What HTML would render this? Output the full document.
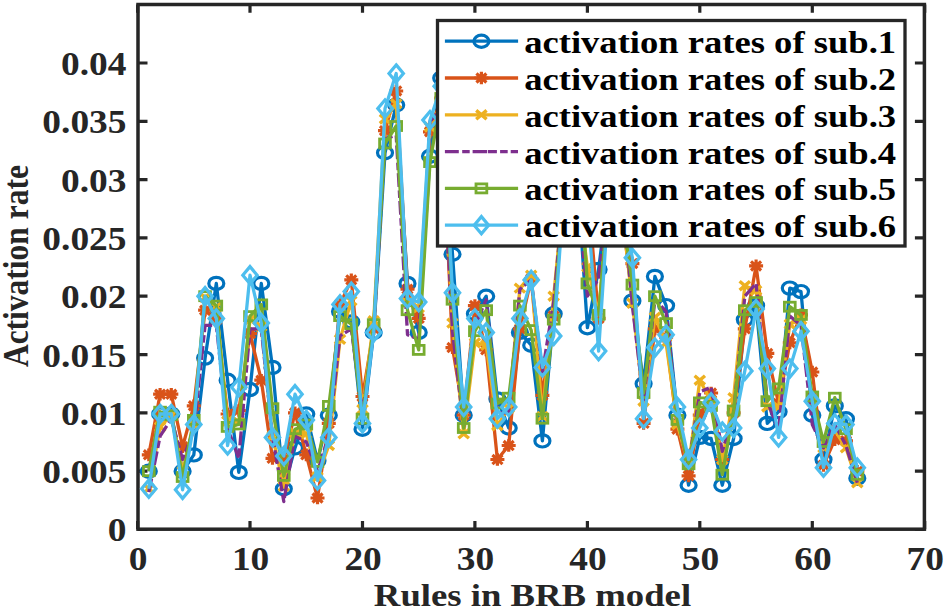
<!DOCTYPE html><html><head><meta charset="utf-8"><style>html,body{margin:0;padding:0;background:#fff;width:944px;height:610px;overflow:hidden}svg{display:block}text{font-family:"Liberation Serif",serif;font-weight:bold}</style></head><body>
<svg width="944" height="610" viewBox="0 0 944 610">
<rect width="944" height="610" fill="#fff"/>
<defs><clipPath id="c"><rect x="138.0" y="4.5" width="786.4" height="524.7"/></clipPath>
</defs>
<rect x="138.0" y="4.5" width="786.4" height="524.7" fill="none" stroke="#262626" stroke-width="3.5"/>
<path d="M137.6 529.2V520.9000000000001M137.6 4.5V12.8M250.0 529.2V520.9000000000001M250.0 4.5V12.8M362.5 529.2V520.9000000000001M362.5 4.5V12.8M474.9 529.2V520.9000000000001M474.9 4.5V12.8M587.4 529.2V520.9000000000001M587.4 4.5V12.8M699.8 529.2V520.9000000000001M699.8 4.5V12.8M812.3 529.2V520.9000000000001M812.3 4.5V12.8M924.7 529.2V520.9000000000001M924.7 4.5V12.8M138.0 529.5H147.5M924.4 529.5H914.9M138.0 471.2H147.5M924.4 471.2H914.9M138.0 412.9H147.5M924.4 412.9H914.9M138.0 354.6H147.5M924.4 354.6H914.9M138.0 296.2H147.5M924.4 296.2H914.9M138.0 237.9H147.5M924.4 237.9H914.9M138.0 179.6H147.5M924.4 179.6H914.9M138.0 121.3H147.5M924.4 121.3H914.9M138.0 63.0H147.5M924.4 63.0H914.9" stroke="#262626" stroke-width="3.2" fill="none"/>
<g clip-path="url(#c)">
<polyline points="148.8,471.2 160.1,414.0 171.3,414.0 182.6,471.2 193.8,454.9 205.1,358.1 216.3,283.4 227.6,380.2 238.8,472.4 250.0,389.5 261.3,283.4 272.5,367.4 283.8,488.7 295.0,447.9 306.3,414.0 317.5,460.7 328.8,415.2 340.0,311.4 351.3,321.9 362.5,429.2 373.7,332.4 385.0,152.8 396.2,105.0 407.5,283.4 418.7,332.4 430.0,156.3 441.2,78.1 452.5,254.3 463.7,415.2 474.9,313.7 486.2,296.2 497.4,398.9 508.7,428.0 519.9,332.4 531.2,345.2 542.4,440.9 553.7,313.7 564.9,179.6 576.1,156.3 587.4,327.7 598.6,269.4 609.9,179.6 621.1,202.9 632.4,300.9 643.6,383.7 654.9,276.4 666.1,305.6 677.4,415.2 688.6,485.2 699.8,437.4 711.1,438.5 722.3,485.2 733.6,438.5 744.8,319.6 756.1,305.6 767.3,423.4 778.6,411.7 789.8,288.1 801.0,291.6 812.3,415.2 823.5,459.5 834.8,405.9 846.0,418.7 857.3,478.2" fill="none" stroke="#0072BD" stroke-width="3.3" stroke-linejoin="round"/>
<ellipse cx="148.8" cy="471.2" rx="7.5" ry="6.1" fill="none" stroke="#0072BD" stroke-width="3.2"/><ellipse cx="160.1" cy="414.0" rx="7.5" ry="6.1" fill="none" stroke="#0072BD" stroke-width="3.2"/><ellipse cx="171.3" cy="414.0" rx="7.5" ry="6.1" fill="none" stroke="#0072BD" stroke-width="3.2"/><ellipse cx="182.6" cy="471.2" rx="7.5" ry="6.1" fill="none" stroke="#0072BD" stroke-width="3.2"/><ellipse cx="193.8" cy="454.9" rx="7.5" ry="6.1" fill="none" stroke="#0072BD" stroke-width="3.2"/><ellipse cx="205.1" cy="358.1" rx="7.5" ry="6.1" fill="none" stroke="#0072BD" stroke-width="3.2"/><ellipse cx="216.3" cy="283.4" rx="7.5" ry="6.1" fill="none" stroke="#0072BD" stroke-width="3.2"/><ellipse cx="227.6" cy="380.2" rx="7.5" ry="6.1" fill="none" stroke="#0072BD" stroke-width="3.2"/><ellipse cx="238.8" cy="472.4" rx="7.5" ry="6.1" fill="none" stroke="#0072BD" stroke-width="3.2"/><ellipse cx="250.0" cy="389.5" rx="7.5" ry="6.1" fill="none" stroke="#0072BD" stroke-width="3.2"/><ellipse cx="261.3" cy="283.4" rx="7.5" ry="6.1" fill="none" stroke="#0072BD" stroke-width="3.2"/><ellipse cx="272.5" cy="367.4" rx="7.5" ry="6.1" fill="none" stroke="#0072BD" stroke-width="3.2"/><ellipse cx="283.8" cy="488.7" rx="7.5" ry="6.1" fill="none" stroke="#0072BD" stroke-width="3.2"/><ellipse cx="295.0" cy="447.9" rx="7.5" ry="6.1" fill="none" stroke="#0072BD" stroke-width="3.2"/><ellipse cx="306.3" cy="414.0" rx="7.5" ry="6.1" fill="none" stroke="#0072BD" stroke-width="3.2"/><ellipse cx="317.5" cy="460.7" rx="7.5" ry="6.1" fill="none" stroke="#0072BD" stroke-width="3.2"/><ellipse cx="328.8" cy="415.2" rx="7.5" ry="6.1" fill="none" stroke="#0072BD" stroke-width="3.2"/><ellipse cx="340.0" cy="311.4" rx="7.5" ry="6.1" fill="none" stroke="#0072BD" stroke-width="3.2"/><ellipse cx="351.3" cy="321.9" rx="7.5" ry="6.1" fill="none" stroke="#0072BD" stroke-width="3.2"/><ellipse cx="362.5" cy="429.2" rx="7.5" ry="6.1" fill="none" stroke="#0072BD" stroke-width="3.2"/><ellipse cx="373.7" cy="332.4" rx="7.5" ry="6.1" fill="none" stroke="#0072BD" stroke-width="3.2"/><ellipse cx="385.0" cy="152.8" rx="7.5" ry="6.1" fill="none" stroke="#0072BD" stroke-width="3.2"/><ellipse cx="396.2" cy="105.0" rx="7.5" ry="6.1" fill="none" stroke="#0072BD" stroke-width="3.2"/><ellipse cx="407.5" cy="283.4" rx="7.5" ry="6.1" fill="none" stroke="#0072BD" stroke-width="3.2"/><ellipse cx="418.7" cy="332.4" rx="7.5" ry="6.1" fill="none" stroke="#0072BD" stroke-width="3.2"/><ellipse cx="430.0" cy="156.3" rx="7.5" ry="6.1" fill="none" stroke="#0072BD" stroke-width="3.2"/><ellipse cx="441.2" cy="78.1" rx="7.5" ry="6.1" fill="none" stroke="#0072BD" stroke-width="3.2"/><ellipse cx="452.5" cy="254.3" rx="7.5" ry="6.1" fill="none" stroke="#0072BD" stroke-width="3.2"/><ellipse cx="463.7" cy="415.2" rx="7.5" ry="6.1" fill="none" stroke="#0072BD" stroke-width="3.2"/><ellipse cx="474.9" cy="313.7" rx="7.5" ry="6.1" fill="none" stroke="#0072BD" stroke-width="3.2"/><ellipse cx="486.2" cy="296.2" rx="7.5" ry="6.1" fill="none" stroke="#0072BD" stroke-width="3.2"/><ellipse cx="497.4" cy="398.9" rx="7.5" ry="6.1" fill="none" stroke="#0072BD" stroke-width="3.2"/><ellipse cx="508.7" cy="428.0" rx="7.5" ry="6.1" fill="none" stroke="#0072BD" stroke-width="3.2"/><ellipse cx="519.9" cy="332.4" rx="7.5" ry="6.1" fill="none" stroke="#0072BD" stroke-width="3.2"/><ellipse cx="531.2" cy="345.2" rx="7.5" ry="6.1" fill="none" stroke="#0072BD" stroke-width="3.2"/><ellipse cx="542.4" cy="440.9" rx="7.5" ry="6.1" fill="none" stroke="#0072BD" stroke-width="3.2"/><ellipse cx="553.7" cy="313.7" rx="7.5" ry="6.1" fill="none" stroke="#0072BD" stroke-width="3.2"/><ellipse cx="564.9" cy="179.6" rx="7.5" ry="6.1" fill="none" stroke="#0072BD" stroke-width="3.2"/><ellipse cx="576.1" cy="156.3" rx="7.5" ry="6.1" fill="none" stroke="#0072BD" stroke-width="3.2"/><ellipse cx="587.4" cy="327.7" rx="7.5" ry="6.1" fill="none" stroke="#0072BD" stroke-width="3.2"/><ellipse cx="598.6" cy="269.4" rx="7.5" ry="6.1" fill="none" stroke="#0072BD" stroke-width="3.2"/><ellipse cx="609.9" cy="179.6" rx="7.5" ry="6.1" fill="none" stroke="#0072BD" stroke-width="3.2"/><ellipse cx="621.1" cy="202.9" rx="7.5" ry="6.1" fill="none" stroke="#0072BD" stroke-width="3.2"/><ellipse cx="632.4" cy="300.9" rx="7.5" ry="6.1" fill="none" stroke="#0072BD" stroke-width="3.2"/><ellipse cx="643.6" cy="383.7" rx="7.5" ry="6.1" fill="none" stroke="#0072BD" stroke-width="3.2"/><ellipse cx="654.9" cy="276.4" rx="7.5" ry="6.1" fill="none" stroke="#0072BD" stroke-width="3.2"/><ellipse cx="666.1" cy="305.6" rx="7.5" ry="6.1" fill="none" stroke="#0072BD" stroke-width="3.2"/><ellipse cx="677.4" cy="415.2" rx="7.5" ry="6.1" fill="none" stroke="#0072BD" stroke-width="3.2"/><ellipse cx="688.6" cy="485.2" rx="7.5" ry="6.1" fill="none" stroke="#0072BD" stroke-width="3.2"/><ellipse cx="699.8" cy="437.4" rx="7.5" ry="6.1" fill="none" stroke="#0072BD" stroke-width="3.2"/><ellipse cx="711.1" cy="438.5" rx="7.5" ry="6.1" fill="none" stroke="#0072BD" stroke-width="3.2"/><ellipse cx="722.3" cy="485.2" rx="7.5" ry="6.1" fill="none" stroke="#0072BD" stroke-width="3.2"/><ellipse cx="733.6" cy="438.5" rx="7.5" ry="6.1" fill="none" stroke="#0072BD" stroke-width="3.2"/><ellipse cx="744.8" cy="319.6" rx="7.5" ry="6.1" fill="none" stroke="#0072BD" stroke-width="3.2"/><ellipse cx="756.1" cy="305.6" rx="7.5" ry="6.1" fill="none" stroke="#0072BD" stroke-width="3.2"/><ellipse cx="767.3" cy="423.4" rx="7.5" ry="6.1" fill="none" stroke="#0072BD" stroke-width="3.2"/><ellipse cx="778.6" cy="411.7" rx="7.5" ry="6.1" fill="none" stroke="#0072BD" stroke-width="3.2"/><ellipse cx="789.8" cy="288.1" rx="7.5" ry="6.1" fill="none" stroke="#0072BD" stroke-width="3.2"/><ellipse cx="801.0" cy="291.6" rx="7.5" ry="6.1" fill="none" stroke="#0072BD" stroke-width="3.2"/><ellipse cx="812.3" cy="415.2" rx="7.5" ry="6.1" fill="none" stroke="#0072BD" stroke-width="3.2"/><ellipse cx="823.5" cy="459.5" rx="7.5" ry="6.1" fill="none" stroke="#0072BD" stroke-width="3.2"/><ellipse cx="834.8" cy="405.9" rx="7.5" ry="6.1" fill="none" stroke="#0072BD" stroke-width="3.2"/><ellipse cx="846.0" cy="418.7" rx="7.5" ry="6.1" fill="none" stroke="#0072BD" stroke-width="3.2"/><ellipse cx="857.3" cy="478.2" rx="7.5" ry="6.1" fill="none" stroke="#0072BD" stroke-width="3.2"/>
<polyline points="148.8,454.9 160.1,394.2 171.3,394.2 182.6,446.7 193.8,405.9 205.1,310.2 216.3,319.6 227.6,414.0 238.8,410.5 250.0,333.6 261.3,380.2 272.5,458.4 283.8,459.5 295.0,412.9 306.3,454.9 317.5,498.0 328.8,423.4 340.0,304.4 351.3,279.9 362.5,396.5 373.7,328.9 385.0,130.6 396.2,91.0 407.5,289.2 418.7,318.4 430.0,131.8 441.2,98.0 452.5,347.6 463.7,415.2 474.9,305.6 486.2,349.9 497.4,459.5 508.7,445.5 519.9,328.9 531.2,278.7 542.4,395.4 553.7,316.1 564.9,179.6 576.1,179.6 587.4,185.4 598.6,318.4 609.9,179.6 621.1,202.9 632.4,263.6 643.6,423.4 654.9,328.9 666.1,337.1 677.4,429.2 688.6,475.9 699.8,415.2 711.1,393.0 722.3,459.5 733.6,412.9 744.8,328.9 756.1,265.9 767.3,353.4 778.6,403.5 789.8,342.9 801.0,314.9 812.3,372.0 823.5,465.4 834.8,439.7 846.0,440.9 857.3,471.2" fill="none" stroke="#D95319" stroke-width="3.3" stroke-linejoin="round"/>
<path d="M141.8 454.9H155.8M148.8 448.6V461.2M143.8 450.3L153.9 459.4M143.8 459.4L153.9 450.3" stroke="#D95319" stroke-width="3.2" fill="none"/><path d="M153.1 394.2H167.1M160.1 387.9V400.5M155.0 389.7L165.1 398.7M155.0 398.7L165.1 389.7" stroke="#D95319" stroke-width="3.2" fill="none"/><path d="M164.3 394.2H178.3M171.3 387.9V400.5M166.3 389.7L176.4 398.7M166.3 398.7L176.4 389.7" stroke="#D95319" stroke-width="3.2" fill="none"/><path d="M175.6 446.7H189.6M182.6 440.4V453.0M177.5 442.2L187.6 451.2M177.5 451.2L187.6 442.2" stroke="#D95319" stroke-width="3.2" fill="none"/><path d="M186.8 405.9H200.8M193.8 399.6V412.2M188.8 401.3L198.9 410.4M188.8 410.4L198.9 401.3" stroke="#D95319" stroke-width="3.2" fill="none"/><path d="M198.1 310.2H212.1M205.1 303.9V316.5M200.0 305.7L210.1 314.8M200.0 314.8L210.1 305.7" stroke="#D95319" stroke-width="3.2" fill="none"/><path d="M209.3 319.6H223.3M216.3 313.3V325.9M211.3 315.0L221.4 324.1M211.3 324.1L221.4 315.0" stroke="#D95319" stroke-width="3.2" fill="none"/><path d="M220.6 414.0H234.6M227.6 407.7V420.3M222.5 409.5L232.6 418.6M222.5 418.6L232.6 409.5" stroke="#D95319" stroke-width="3.2" fill="none"/><path d="M231.8 410.5H245.8M238.8 404.2V416.8M233.8 406.0L243.8 415.1M233.8 415.1L243.8 406.0" stroke="#D95319" stroke-width="3.2" fill="none"/><path d="M243.0 333.6H257.0M250.0 327.3V339.9M245.0 329.0L255.1 338.1M245.0 338.1L255.1 329.0" stroke="#D95319" stroke-width="3.2" fill="none"/><path d="M254.3 380.2H268.3M261.3 373.9V386.5M256.3 375.7L266.3 384.7M256.3 384.7L266.3 375.7" stroke="#D95319" stroke-width="3.2" fill="none"/><path d="M265.5 458.4H279.5M272.5 452.1V464.7M267.5 453.8L277.6 462.9M267.5 462.9L277.6 453.8" stroke="#D95319" stroke-width="3.2" fill="none"/><path d="M276.8 459.5H290.8M283.8 453.2V465.8M278.7 455.0L288.8 464.1M278.7 464.1L288.8 455.0" stroke="#D95319" stroke-width="3.2" fill="none"/><path d="M288.0 412.9H302.0M295.0 406.6V419.2M290.0 408.3L300.1 417.4M290.0 417.4L300.1 408.3" stroke="#D95319" stroke-width="3.2" fill="none"/><path d="M299.3 454.9H313.3M306.3 448.6V461.2M301.2 450.3L311.3 459.4M301.2 459.4L311.3 450.3" stroke="#D95319" stroke-width="3.2" fill="none"/><path d="M310.5 498.0H324.5M317.5 491.7V504.3M312.5 493.5L322.6 502.5M312.5 502.5L322.6 493.5" stroke="#D95319" stroke-width="3.2" fill="none"/><path d="M321.8 423.4H335.8M328.8 417.1V429.7M323.7 418.8L333.8 427.9M323.7 427.9L333.8 418.8" stroke="#D95319" stroke-width="3.2" fill="none"/><path d="M333.0 304.4H347.0M340.0 298.1V310.7M335.0 299.9L345.0 308.9M335.0 308.9L345.0 299.9" stroke="#D95319" stroke-width="3.2" fill="none"/><path d="M344.3 279.9H358.3M351.3 273.6V286.2M346.2 275.4L356.3 284.4M346.2 284.4L356.3 275.4" stroke="#D95319" stroke-width="3.2" fill="none"/><path d="M355.5 396.5H369.5M362.5 390.2V402.8M357.5 392.0L367.5 401.1M357.5 401.1L367.5 392.0" stroke="#D95319" stroke-width="3.2" fill="none"/><path d="M366.7 328.9H380.7M373.7 322.6V335.2M368.7 324.4L378.8 333.4M368.7 333.4L378.8 324.4" stroke="#D95319" stroke-width="3.2" fill="none"/><path d="M378.0 130.6H392.0M385.0 124.3V136.9M379.9 126.1L390.0 135.2M379.9 135.2L390.0 126.1" stroke="#D95319" stroke-width="3.2" fill="none"/><path d="M389.2 91.0H403.2M396.2 84.7V97.3M391.2 86.4L401.3 95.5M391.2 95.5L401.3 86.4" stroke="#D95319" stroke-width="3.2" fill="none"/><path d="M400.5 289.2H414.5M407.5 282.9V295.5M402.4 284.7L412.5 293.8M402.4 293.8L412.5 284.7" stroke="#D95319" stroke-width="3.2" fill="none"/><path d="M411.7 318.4H425.7M418.7 312.1V324.7M413.7 313.9L423.8 322.9M413.7 322.9L423.8 313.9" stroke="#D95319" stroke-width="3.2" fill="none"/><path d="M423.0 131.8H437.0M430.0 125.5V138.1M424.9 127.3L435.0 136.3M424.9 136.3L435.0 127.3" stroke="#D95319" stroke-width="3.2" fill="none"/><path d="M434.2 98.0H448.2M441.2 91.7V104.3M436.2 93.4L446.2 102.5M436.2 102.5L446.2 93.4" stroke="#D95319" stroke-width="3.2" fill="none"/><path d="M445.5 347.6H459.5M452.5 341.3V353.9M447.4 343.0L457.5 352.1M447.4 352.1L457.5 343.0" stroke="#D95319" stroke-width="3.2" fill="none"/><path d="M456.7 415.2H470.7M463.7 408.9V421.5M458.7 410.7L468.7 419.7M458.7 419.7L468.7 410.7" stroke="#D95319" stroke-width="3.2" fill="none"/><path d="M467.9 305.6H481.9M474.9 299.3V311.9M469.9 301.0L480.0 310.1M469.9 310.1L480.0 301.0" stroke="#D95319" stroke-width="3.2" fill="none"/><path d="M479.2 349.9H493.2M486.2 343.6V356.2M481.1 345.4L491.2 354.4M481.1 354.4L491.2 345.4" stroke="#D95319" stroke-width="3.2" fill="none"/><path d="M490.4 459.5H504.4M497.4 453.2V465.8M492.4 455.0L502.5 464.1M492.4 464.1L502.5 455.0" stroke="#D95319" stroke-width="3.2" fill="none"/><path d="M501.7 445.5H515.7M508.7 439.2V451.8M503.6 441.0L513.7 450.1M503.6 450.1L513.7 441.0" stroke="#D95319" stroke-width="3.2" fill="none"/><path d="M512.9 328.9H526.9M519.9 322.6V335.2M514.9 324.4L525.0 333.4M514.9 333.4L525.0 324.4" stroke="#D95319" stroke-width="3.2" fill="none"/><path d="M524.2 278.7H538.2M531.2 272.4V285.0M526.1 274.2L536.2 283.3M526.1 283.3L536.2 274.2" stroke="#D95319" stroke-width="3.2" fill="none"/><path d="M535.4 395.4H549.4M542.4 389.1V401.7M537.4 390.8L547.5 399.9M537.4 399.9L547.5 390.8" stroke="#D95319" stroke-width="3.2" fill="none"/><path d="M546.7 316.1H560.7M553.7 309.8V322.4M548.6 311.5L558.7 320.6M548.6 320.6L558.7 311.5" stroke="#D95319" stroke-width="3.2" fill="none"/><path d="M557.9 179.6H571.9M564.9 173.3V185.9M559.9 175.1L569.9 184.1M559.9 184.1L569.9 175.1" stroke="#D95319" stroke-width="3.2" fill="none"/><path d="M569.1 179.6H583.1M576.1 173.3V185.9M571.1 175.1L581.2 184.1M571.1 184.1L581.2 175.1" stroke="#D95319" stroke-width="3.2" fill="none"/><path d="M580.4 185.4H594.4M587.4 179.1V191.7M582.4 180.9L592.4 190.0M582.4 190.0L592.4 180.9" stroke="#D95319" stroke-width="3.2" fill="none"/><path d="M591.6 318.4H605.6M598.6 312.1V324.7M593.6 313.9L603.7 322.9M593.6 322.9L603.7 313.9" stroke="#D95319" stroke-width="3.2" fill="none"/><path d="M602.9 179.6H616.9M609.9 173.3V185.9M604.8 175.1L614.9 184.1M604.8 184.1L614.9 175.1" stroke="#D95319" stroke-width="3.2" fill="none"/><path d="M614.1 202.9H628.1M621.1 196.6V209.2M616.1 198.4L626.2 207.5M616.1 207.5L626.2 198.4" stroke="#D95319" stroke-width="3.2" fill="none"/><path d="M625.4 263.6H639.4M632.4 257.3V269.9M627.3 259.0L637.4 268.1M627.3 268.1L637.4 259.0" stroke="#D95319" stroke-width="3.2" fill="none"/><path d="M636.6 423.4H650.6M643.6 417.1V429.7M638.6 418.8L648.7 427.9M638.6 427.9L648.7 418.8" stroke="#D95319" stroke-width="3.2" fill="none"/><path d="M647.9 328.9H661.9M654.9 322.6V335.2M649.8 324.4L659.9 333.4M649.8 333.4L659.9 324.4" stroke="#D95319" stroke-width="3.2" fill="none"/><path d="M659.1 337.1H673.1M666.1 330.8V343.4M661.1 332.5L671.1 341.6M661.1 341.6L671.1 332.5" stroke="#D95319" stroke-width="3.2" fill="none"/><path d="M670.4 429.2H684.4M677.4 422.9V435.5M672.3 424.7L682.4 433.7M672.3 433.7L682.4 424.7" stroke="#D95319" stroke-width="3.2" fill="none"/><path d="M681.6 475.9H695.6M688.6 469.6V482.2M683.6 471.3L693.6 480.4M683.6 480.4L693.6 471.3" stroke="#D95319" stroke-width="3.2" fill="none"/><path d="M692.8 415.2H706.8M699.8 408.9V421.5M694.8 410.7L704.9 419.7M694.8 419.7L704.9 410.7" stroke="#D95319" stroke-width="3.2" fill="none"/><path d="M704.1 393.0H718.1M711.1 386.7V399.3M706.0 388.5L716.1 397.6M706.0 397.6L716.1 388.5" stroke="#D95319" stroke-width="3.2" fill="none"/><path d="M715.3 459.5H729.3M722.3 453.2V465.8M717.3 455.0L727.4 464.1M717.3 464.1L727.4 455.0" stroke="#D95319" stroke-width="3.2" fill="none"/><path d="M726.6 412.9H740.6M733.6 406.6V419.2M728.5 408.3L738.6 417.4M728.5 417.4L738.6 408.3" stroke="#D95319" stroke-width="3.2" fill="none"/><path d="M737.8 328.9H751.8M744.8 322.6V335.2M739.8 324.4L749.9 333.4M739.8 333.4L749.9 324.4" stroke="#D95319" stroke-width="3.2" fill="none"/><path d="M749.1 265.9H763.1M756.1 259.6V272.2M751.0 261.4L761.1 270.5M751.0 270.5L761.1 261.4" stroke="#D95319" stroke-width="3.2" fill="none"/><path d="M760.3 353.4H774.3M767.3 347.1V359.7M762.3 348.9L772.3 357.9M762.3 357.9L772.3 348.9" stroke="#D95319" stroke-width="3.2" fill="none"/><path d="M771.6 403.5H785.6M778.6 397.2V409.8M773.5 399.0L783.6 408.1M773.5 408.1L783.6 399.0" stroke="#D95319" stroke-width="3.2" fill="none"/><path d="M782.8 342.9H796.8M789.8 336.6V349.2M784.8 338.4L794.8 347.4M784.8 347.4L794.8 338.4" stroke="#D95319" stroke-width="3.2" fill="none"/><path d="M794.0 314.9H808.0M801.0 308.6V321.2M796.0 310.4L806.1 319.4M796.0 319.4L806.1 310.4" stroke="#D95319" stroke-width="3.2" fill="none"/><path d="M805.3 372.0H819.3M812.3 365.7V378.3M807.2 367.5L817.3 376.6M807.2 376.6L817.3 367.5" stroke="#D95319" stroke-width="3.2" fill="none"/><path d="M816.5 465.4H830.5M823.5 459.1V471.7M818.5 460.8L828.6 469.9M818.5 469.9L828.6 460.8" stroke="#D95319" stroke-width="3.2" fill="none"/><path d="M827.8 439.7H841.8M834.8 433.4V446.0M829.7 435.2L839.8 444.2M829.7 444.2L839.8 435.2" stroke="#D95319" stroke-width="3.2" fill="none"/><path d="M839.0 440.9H853.0M846.0 434.6V447.2M841.0 436.3L851.1 445.4M841.0 445.4L851.1 436.3" stroke="#D95319" stroke-width="3.2" fill="none"/><path d="M850.3 471.2H864.3M857.3 464.9V477.5M852.2 466.6L862.3 475.7M852.2 475.7L862.3 466.6" stroke="#D95319" stroke-width="3.2" fill="none"/>
<polyline points="148.8,488.7 160.1,426.9 171.3,415.2 182.6,471.2 193.8,424.5 205.1,297.4 216.3,306.7 227.6,421.0 238.8,422.2 250.0,319.6 261.3,326.6 272.5,436.2 283.8,486.3 295.0,432.7 306.3,433.9 317.5,477.0 328.8,445.5 340.0,339.4 351.3,300.9 362.5,409.4 373.7,320.7 385.0,119.0 396.2,103.8 407.5,302.1 418.7,307.9 430.0,127.1 441.2,109.6 452.5,323.1 463.7,433.9 474.9,342.9 486.2,345.2 497.4,425.7 508.7,408.2 519.9,288.1 531.2,275.2 542.4,416.4 553.7,296.2 564.9,179.6 576.1,179.6 587.4,267.1 598.6,313.7 609.9,179.6 621.1,202.9 632.4,303.2 643.6,401.2 654.9,317.2 666.1,342.9 677.4,424.5 688.6,465.4 699.8,380.2 711.1,401.2 722.3,459.5 733.6,397.7 744.8,285.7 756.1,290.4 767.3,407.0 778.6,407.0 789.8,324.2 801.0,319.6 812.3,401.2 823.5,447.9 834.8,430.4 846.0,447.9 857.3,482.8" fill="none" stroke="#EDB120" stroke-width="3.3" stroke-linejoin="round"/>
<path d="M143.6 484.3L154.0 493.1M143.6 493.1L154.0 484.3" stroke="#EDB120" stroke-width="3.4" fill="none"/><path d="M154.9 422.5L165.3 431.3M154.9 431.3L165.3 422.5" stroke="#EDB120" stroke-width="3.4" fill="none"/><path d="M166.1 410.8L176.5 419.6M166.1 419.6L176.5 410.8" stroke="#EDB120" stroke-width="3.4" fill="none"/><path d="M177.4 466.8L187.8 475.6M177.4 475.6L187.8 466.8" stroke="#EDB120" stroke-width="3.4" fill="none"/><path d="M188.6 420.1L199.0 428.9M188.6 428.9L199.0 420.1" stroke="#EDB120" stroke-width="3.4" fill="none"/><path d="M199.9 293.0L210.3 301.8M199.9 301.8L210.3 293.0" stroke="#EDB120" stroke-width="3.4" fill="none"/><path d="M211.1 302.3L221.5 311.1M211.1 311.1L221.5 302.3" stroke="#EDB120" stroke-width="3.4" fill="none"/><path d="M222.4 416.6L232.8 425.4M222.4 425.4L232.8 416.6" stroke="#EDB120" stroke-width="3.4" fill="none"/><path d="M233.6 417.8L244.0 426.6M233.6 426.6L244.0 417.8" stroke="#EDB120" stroke-width="3.4" fill="none"/><path d="M244.8 315.2L255.2 324.0M244.8 324.0L255.2 315.2" stroke="#EDB120" stroke-width="3.4" fill="none"/><path d="M256.1 322.2L266.5 331.0M256.1 331.0L266.5 322.2" stroke="#EDB120" stroke-width="3.4" fill="none"/><path d="M267.3 431.8L277.7 440.6M267.3 440.6L277.7 431.8" stroke="#EDB120" stroke-width="3.4" fill="none"/><path d="M278.6 481.9L289.0 490.7M278.6 490.7L289.0 481.9" stroke="#EDB120" stroke-width="3.4" fill="none"/><path d="M289.8 428.3L300.2 437.1M289.8 437.1L300.2 428.3" stroke="#EDB120" stroke-width="3.4" fill="none"/><path d="M301.1 429.5L311.5 438.3M301.1 438.3L311.5 429.5" stroke="#EDB120" stroke-width="3.4" fill="none"/><path d="M312.3 472.6L322.7 481.4M312.3 481.4L322.7 472.6" stroke="#EDB120" stroke-width="3.4" fill="none"/><path d="M323.6 441.1L334.0 449.9M323.6 449.9L334.0 441.1" stroke="#EDB120" stroke-width="3.4" fill="none"/><path d="M334.8 335.0L345.2 343.8M334.8 343.8L345.2 335.0" stroke="#EDB120" stroke-width="3.4" fill="none"/><path d="M346.1 296.5L356.5 305.3M346.1 305.3L356.5 296.5" stroke="#EDB120" stroke-width="3.4" fill="none"/><path d="M357.3 405.0L367.7 413.8M357.3 413.8L367.7 405.0" stroke="#EDB120" stroke-width="3.4" fill="none"/><path d="M368.5 316.3L378.9 325.1M368.5 325.1L378.9 316.3" stroke="#EDB120" stroke-width="3.4" fill="none"/><path d="M379.8 114.6L390.2 123.4M379.8 123.4L390.2 114.6" stroke="#EDB120" stroke-width="3.4" fill="none"/><path d="M391.0 99.4L401.4 108.2M391.0 108.2L401.4 99.4" stroke="#EDB120" stroke-width="3.4" fill="none"/><path d="M402.3 297.7L412.7 306.5M402.3 306.5L412.7 297.7" stroke="#EDB120" stroke-width="3.4" fill="none"/><path d="M413.5 303.5L423.9 312.3M413.5 312.3L423.9 303.5" stroke="#EDB120" stroke-width="3.4" fill="none"/><path d="M424.8 122.7L435.2 131.5M424.8 131.5L435.2 122.7" stroke="#EDB120" stroke-width="3.4" fill="none"/><path d="M436.0 105.2L446.4 114.0M436.0 114.0L446.4 105.2" stroke="#EDB120" stroke-width="3.4" fill="none"/><path d="M447.3 318.7L457.7 327.5M447.3 327.5L457.7 318.7" stroke="#EDB120" stroke-width="3.4" fill="none"/><path d="M458.5 429.5L468.9 438.3M458.5 438.3L468.9 429.5" stroke="#EDB120" stroke-width="3.4" fill="none"/><path d="M469.7 338.5L480.1 347.3M469.7 347.3L480.1 338.5" stroke="#EDB120" stroke-width="3.4" fill="none"/><path d="M481.0 340.8L491.4 349.6M481.0 349.6L491.4 340.8" stroke="#EDB120" stroke-width="3.4" fill="none"/><path d="M492.2 421.3L502.6 430.1M492.2 430.1L502.6 421.3" stroke="#EDB120" stroke-width="3.4" fill="none"/><path d="M503.5 403.8L513.9 412.6M503.5 412.6L513.9 403.8" stroke="#EDB120" stroke-width="3.4" fill="none"/><path d="M514.7 283.7L525.1 292.5M514.7 292.5L525.1 283.7" stroke="#EDB120" stroke-width="3.4" fill="none"/><path d="M526.0 270.8L536.4 279.6M526.0 279.6L536.4 270.8" stroke="#EDB120" stroke-width="3.4" fill="none"/><path d="M537.2 412.0L547.6 420.8M537.2 420.8L547.6 412.0" stroke="#EDB120" stroke-width="3.4" fill="none"/><path d="M548.5 291.8L558.9 300.6M548.5 300.6L558.9 291.8" stroke="#EDB120" stroke-width="3.4" fill="none"/><path d="M559.7 175.2L570.1 184.0M559.7 184.0L570.1 175.2" stroke="#EDB120" stroke-width="3.4" fill="none"/><path d="M570.9 175.2L581.3 184.0M570.9 184.0L581.3 175.2" stroke="#EDB120" stroke-width="3.4" fill="none"/><path d="M582.2 262.7L592.6 271.5M582.2 271.5L592.6 262.7" stroke="#EDB120" stroke-width="3.4" fill="none"/><path d="M593.4 309.3L603.8 318.1M593.4 318.1L603.8 309.3" stroke="#EDB120" stroke-width="3.4" fill="none"/><path d="M604.7 175.2L615.1 184.0M604.7 184.0L615.1 175.2" stroke="#EDB120" stroke-width="3.4" fill="none"/><path d="M615.9 198.5L626.3 207.3M615.9 207.3L626.3 198.5" stroke="#EDB120" stroke-width="3.4" fill="none"/><path d="M627.2 298.8L637.6 307.6M627.2 307.6L637.6 298.8" stroke="#EDB120" stroke-width="3.4" fill="none"/><path d="M638.4 396.8L648.8 405.6M638.4 405.6L648.8 396.8" stroke="#EDB120" stroke-width="3.4" fill="none"/><path d="M649.7 312.8L660.1 321.6M649.7 321.6L660.1 312.8" stroke="#EDB120" stroke-width="3.4" fill="none"/><path d="M660.9 338.5L671.3 347.3M660.9 347.3L671.3 338.5" stroke="#EDB120" stroke-width="3.4" fill="none"/><path d="M672.2 420.1L682.6 428.9M672.2 428.9L682.6 420.1" stroke="#EDB120" stroke-width="3.4" fill="none"/><path d="M683.4 461.0L693.8 469.8M683.4 469.8L693.8 461.0" stroke="#EDB120" stroke-width="3.4" fill="none"/><path d="M694.6 375.8L705.0 384.6M694.6 384.6L705.0 375.8" stroke="#EDB120" stroke-width="3.4" fill="none"/><path d="M705.9 396.8L716.3 405.6M705.9 405.6L716.3 396.8" stroke="#EDB120" stroke-width="3.4" fill="none"/><path d="M717.1 455.1L727.5 463.9M717.1 463.9L727.5 455.1" stroke="#EDB120" stroke-width="3.4" fill="none"/><path d="M728.4 393.3L738.8 402.1M728.4 402.1L738.8 393.3" stroke="#EDB120" stroke-width="3.4" fill="none"/><path d="M739.6 281.3L750.0 290.1M739.6 290.1L750.0 281.3" stroke="#EDB120" stroke-width="3.4" fill="none"/><path d="M750.9 286.0L761.3 294.8M750.9 294.8L761.3 286.0" stroke="#EDB120" stroke-width="3.4" fill="none"/><path d="M762.1 402.6L772.5 411.4M762.1 411.4L772.5 402.6" stroke="#EDB120" stroke-width="3.4" fill="none"/><path d="M773.4 402.6L783.8 411.4M773.4 411.4L783.8 402.6" stroke="#EDB120" stroke-width="3.4" fill="none"/><path d="M784.6 319.8L795.0 328.6M784.6 328.6L795.0 319.8" stroke="#EDB120" stroke-width="3.4" fill="none"/><path d="M795.8 315.2L806.2 324.0M795.8 324.0L806.2 315.2" stroke="#EDB120" stroke-width="3.4" fill="none"/><path d="M807.1 396.8L817.5 405.6M807.1 405.6L817.5 396.8" stroke="#EDB120" stroke-width="3.4" fill="none"/><path d="M818.3 443.5L828.7 452.3M818.3 452.3L828.7 443.5" stroke="#EDB120" stroke-width="3.4" fill="none"/><path d="M829.6 426.0L840.0 434.8M829.6 434.8L840.0 426.0" stroke="#EDB120" stroke-width="3.4" fill="none"/><path d="M840.8 443.5L851.2 452.3M840.8 452.3L851.2 443.5" stroke="#EDB120" stroke-width="3.4" fill="none"/><path d="M852.1 478.4L862.5 487.2M852.1 487.2L862.5 478.4" stroke="#EDB120" stroke-width="3.4" fill="none"/>
<polyline points="148.8,492.2 160.1,436.2 171.3,418.7 182.6,459.5 193.8,430.4 205.1,325.4 216.3,325.4 227.6,428.0 238.8,458.4 250.0,328.9 261.3,328.9 272.5,436.2 283.8,501.5 295.0,436.2 306.3,442.0 317.5,471.2 328.8,436.2 340.0,335.9 351.3,328.9 362.5,412.9 373.7,331.2 385.0,138.8 396.2,135.3 407.5,334.7 418.7,339.4 430.0,121.3 441.2,109.6 452.5,331.2 463.7,426.9 474.9,325.4 486.2,299.7 497.4,412.9 508.7,412.9 519.9,289.2 531.2,279.9 542.4,372.0 553.7,302.1 564.9,179.6 576.1,179.6 587.4,296.2 598.6,278.7 609.9,179.6 621.1,179.6 632.4,305.6 643.6,401.2 654.9,299.7 666.1,311.4 677.4,418.7 688.6,465.4 699.8,391.9 711.1,387.2 722.3,451.4 733.6,412.9 744.8,296.2 756.1,283.4 767.3,401.2 778.6,430.4 789.8,316.1 801.0,325.4 812.3,424.5 823.5,447.9 834.8,424.5 846.0,445.5 857.3,482.8" fill="none" stroke="#7E2F8E" stroke-width="3.3" stroke-linejoin="round" stroke-dasharray="13.9,3.4,7.5,3"/>

<polyline points="148.8,471.2 160.1,411.7 171.3,415.2 182.6,477.0 193.8,419.9 205.1,296.2 216.3,305.6 227.6,426.9 238.8,424.5 250.0,316.1 261.3,304.4 272.5,408.2 283.8,475.9 295.0,429.2 306.3,424.5 317.5,461.9 328.8,405.9 340.0,316.1 351.3,324.2 362.5,418.7 373.7,324.2 385.0,143.5 396.2,126.0 407.5,310.2 418.7,349.9 430.0,162.1 441.2,98.0 452.5,299.7 463.7,428.0 474.9,331.2 486.2,310.2 497.4,403.5 508.7,397.7 519.9,305.6 531.2,330.1 542.4,418.7 553.7,319.6 564.9,179.6 576.1,121.3 587.4,283.4 598.6,314.9 609.9,179.6 621.1,202.9 632.4,284.6 643.6,393.0 654.9,296.2 666.1,323.1 677.4,419.9 688.6,464.2 699.8,402.4 711.1,405.9 722.3,474.7 733.6,410.5 744.8,310.2 756.1,302.1 767.3,401.2 778.6,388.4 789.8,306.7 801.0,314.9 812.3,396.5 823.5,442.0 834.8,397.7 846.0,429.2 857.3,474.7" fill="none" stroke="#77AC30" stroke-width="3.3" stroke-linejoin="round"/>
<rect x="143.4" y="466.7" width="10.8" height="9.0" fill="none" stroke="#77AC30" stroke-width="2.8"/><rect x="154.7" y="407.2" width="10.8" height="9.0" fill="none" stroke="#77AC30" stroke-width="2.8"/><rect x="165.9" y="410.7" width="10.8" height="9.0" fill="none" stroke="#77AC30" stroke-width="2.8"/><rect x="177.2" y="472.5" width="10.8" height="9.0" fill="none" stroke="#77AC30" stroke-width="2.8"/><rect x="188.4" y="415.4" width="10.8" height="9.0" fill="none" stroke="#77AC30" stroke-width="2.8"/><rect x="199.7" y="291.7" width="10.8" height="9.0" fill="none" stroke="#77AC30" stroke-width="2.8"/><rect x="210.9" y="301.1" width="10.8" height="9.0" fill="none" stroke="#77AC30" stroke-width="2.8"/><rect x="222.2" y="422.4" width="10.8" height="9.0" fill="none" stroke="#77AC30" stroke-width="2.8"/><rect x="233.4" y="420.0" width="10.8" height="9.0" fill="none" stroke="#77AC30" stroke-width="2.8"/><rect x="244.6" y="311.6" width="10.8" height="9.0" fill="none" stroke="#77AC30" stroke-width="2.8"/><rect x="255.9" y="299.9" width="10.8" height="9.0" fill="none" stroke="#77AC30" stroke-width="2.8"/><rect x="267.1" y="403.7" width="10.8" height="9.0" fill="none" stroke="#77AC30" stroke-width="2.8"/><rect x="278.4" y="471.4" width="10.8" height="9.0" fill="none" stroke="#77AC30" stroke-width="2.8"/><rect x="289.6" y="424.7" width="10.8" height="9.0" fill="none" stroke="#77AC30" stroke-width="2.8"/><rect x="300.9" y="420.0" width="10.8" height="9.0" fill="none" stroke="#77AC30" stroke-width="2.8"/><rect x="312.1" y="457.4" width="10.8" height="9.0" fill="none" stroke="#77AC30" stroke-width="2.8"/><rect x="323.4" y="401.4" width="10.8" height="9.0" fill="none" stroke="#77AC30" stroke-width="2.8"/><rect x="334.6" y="311.6" width="10.8" height="9.0" fill="none" stroke="#77AC30" stroke-width="2.8"/><rect x="345.9" y="319.7" width="10.8" height="9.0" fill="none" stroke="#77AC30" stroke-width="2.8"/><rect x="357.1" y="414.2" width="10.8" height="9.0" fill="none" stroke="#77AC30" stroke-width="2.8"/><rect x="368.3" y="319.7" width="10.8" height="9.0" fill="none" stroke="#77AC30" stroke-width="2.8"/><rect x="379.6" y="139.0" width="10.8" height="9.0" fill="none" stroke="#77AC30" stroke-width="2.8"/><rect x="390.8" y="121.5" width="10.8" height="9.0" fill="none" stroke="#77AC30" stroke-width="2.8"/><rect x="402.1" y="305.7" width="10.8" height="9.0" fill="none" stroke="#77AC30" stroke-width="2.8"/><rect x="413.3" y="345.4" width="10.8" height="9.0" fill="none" stroke="#77AC30" stroke-width="2.8"/><rect x="424.6" y="157.6" width="10.8" height="9.0" fill="none" stroke="#77AC30" stroke-width="2.8"/><rect x="435.8" y="93.5" width="10.8" height="9.0" fill="none" stroke="#77AC30" stroke-width="2.8"/><rect x="447.1" y="295.2" width="10.8" height="9.0" fill="none" stroke="#77AC30" stroke-width="2.8"/><rect x="458.3" y="423.5" width="10.8" height="9.0" fill="none" stroke="#77AC30" stroke-width="2.8"/><rect x="469.5" y="326.7" width="10.8" height="9.0" fill="none" stroke="#77AC30" stroke-width="2.8"/><rect x="480.8" y="305.7" width="10.8" height="9.0" fill="none" stroke="#77AC30" stroke-width="2.8"/><rect x="492.0" y="399.0" width="10.8" height="9.0" fill="none" stroke="#77AC30" stroke-width="2.8"/><rect x="503.3" y="393.2" width="10.8" height="9.0" fill="none" stroke="#77AC30" stroke-width="2.8"/><rect x="514.5" y="301.1" width="10.8" height="9.0" fill="none" stroke="#77AC30" stroke-width="2.8"/><rect x="525.8" y="325.6" width="10.8" height="9.0" fill="none" stroke="#77AC30" stroke-width="2.8"/><rect x="537.0" y="414.2" width="10.8" height="9.0" fill="none" stroke="#77AC30" stroke-width="2.8"/><rect x="548.3" y="315.1" width="10.8" height="9.0" fill="none" stroke="#77AC30" stroke-width="2.8"/><rect x="559.5" y="175.1" width="10.8" height="9.0" fill="none" stroke="#77AC30" stroke-width="2.8"/><rect x="570.7" y="116.8" width="10.8" height="9.0" fill="none" stroke="#77AC30" stroke-width="2.8"/><rect x="582.0" y="278.9" width="10.8" height="9.0" fill="none" stroke="#77AC30" stroke-width="2.8"/><rect x="593.2" y="310.4" width="10.8" height="9.0" fill="none" stroke="#77AC30" stroke-width="2.8"/><rect x="604.5" y="175.1" width="10.8" height="9.0" fill="none" stroke="#77AC30" stroke-width="2.8"/><rect x="615.7" y="198.4" width="10.8" height="9.0" fill="none" stroke="#77AC30" stroke-width="2.8"/><rect x="627.0" y="280.1" width="10.8" height="9.0" fill="none" stroke="#77AC30" stroke-width="2.8"/><rect x="638.2" y="388.5" width="10.8" height="9.0" fill="none" stroke="#77AC30" stroke-width="2.8"/><rect x="649.5" y="291.7" width="10.8" height="9.0" fill="none" stroke="#77AC30" stroke-width="2.8"/><rect x="660.7" y="318.6" width="10.8" height="9.0" fill="none" stroke="#77AC30" stroke-width="2.8"/><rect x="672.0" y="415.4" width="10.8" height="9.0" fill="none" stroke="#77AC30" stroke-width="2.8"/><rect x="683.2" y="459.7" width="10.8" height="9.0" fill="none" stroke="#77AC30" stroke-width="2.8"/><rect x="694.4" y="397.9" width="10.8" height="9.0" fill="none" stroke="#77AC30" stroke-width="2.8"/><rect x="705.7" y="401.4" width="10.8" height="9.0" fill="none" stroke="#77AC30" stroke-width="2.8"/><rect x="716.9" y="470.2" width="10.8" height="9.0" fill="none" stroke="#77AC30" stroke-width="2.8"/><rect x="728.2" y="406.0" width="10.8" height="9.0" fill="none" stroke="#77AC30" stroke-width="2.8"/><rect x="739.4" y="305.7" width="10.8" height="9.0" fill="none" stroke="#77AC30" stroke-width="2.8"/><rect x="750.7" y="297.6" width="10.8" height="9.0" fill="none" stroke="#77AC30" stroke-width="2.8"/><rect x="761.9" y="396.7" width="10.8" height="9.0" fill="none" stroke="#77AC30" stroke-width="2.8"/><rect x="773.2" y="383.9" width="10.8" height="9.0" fill="none" stroke="#77AC30" stroke-width="2.8"/><rect x="784.4" y="302.2" width="10.8" height="9.0" fill="none" stroke="#77AC30" stroke-width="2.8"/><rect x="795.6" y="310.4" width="10.8" height="9.0" fill="none" stroke="#77AC30" stroke-width="2.8"/><rect x="806.9" y="392.0" width="10.8" height="9.0" fill="none" stroke="#77AC30" stroke-width="2.8"/><rect x="818.1" y="437.5" width="10.8" height="9.0" fill="none" stroke="#77AC30" stroke-width="2.8"/><rect x="829.4" y="393.2" width="10.8" height="9.0" fill="none" stroke="#77AC30" stroke-width="2.8"/><rect x="840.6" y="424.7" width="10.8" height="9.0" fill="none" stroke="#77AC30" stroke-width="2.8"/><rect x="851.9" y="470.2" width="10.8" height="9.0" fill="none" stroke="#77AC30" stroke-width="2.8"/>
<polyline points="148.8,488.7 160.1,414.0 171.3,414.0 182.6,489.8 193.8,424.5 205.1,296.2 216.3,318.4 227.6,445.5 238.8,387.2 250.0,275.2 261.3,323.1 272.5,437.4 283.8,456.0 295.0,394.2 306.3,419.9 317.5,480.5 328.8,437.4 340.0,304.4 351.3,291.6 362.5,423.4 373.7,332.4 385.0,108.5 396.2,73.5 407.5,298.6 418.7,302.1 430.0,120.1 441.2,86.3 452.5,292.7 463.7,407.0 474.9,318.4 486.2,332.4 497.4,418.7 508.7,407.0 519.9,318.4 531.2,279.9 542.4,367.4 553.7,335.9 564.9,179.6 576.1,179.6 587.4,205.3 598.6,351.1 609.9,179.6 621.1,202.9 632.4,257.8 643.6,418.7 654.9,347.6 666.1,334.7 677.4,407.0 688.6,459.5 699.8,428.0 711.1,402.4 722.3,431.5 733.6,428.0 744.8,370.9 756.1,309.1 767.3,368.6 778.6,437.4 789.8,368.6 801.0,331.2 812.3,401.2 823.5,467.7 834.8,423.4 846.0,424.5 857.3,467.7" fill="none" stroke="#4DBEEE" stroke-width="3.3" stroke-linejoin="round"/>
<path d="M148.8 480.1L156.0 488.7L148.8 497.3L141.6 488.7Z" stroke="#4DBEEE" stroke-width="3.2" fill="none" stroke-linejoin="miter"/><path d="M160.1 405.4L167.3 414.0L160.1 422.6L152.9 414.0Z" stroke="#4DBEEE" stroke-width="3.2" fill="none" stroke-linejoin="miter"/><path d="M171.3 405.4L178.5 414.0L171.3 422.6L164.1 414.0Z" stroke="#4DBEEE" stroke-width="3.2" fill="none" stroke-linejoin="miter"/><path d="M182.6 481.2L189.8 489.8L182.6 498.4L175.4 489.8Z" stroke="#4DBEEE" stroke-width="3.2" fill="none" stroke-linejoin="miter"/><path d="M193.8 415.9L201.0 424.5L193.8 433.1L186.6 424.5Z" stroke="#4DBEEE" stroke-width="3.2" fill="none" stroke-linejoin="miter"/><path d="M205.1 287.6L212.3 296.2L205.1 304.8L197.9 296.2Z" stroke="#4DBEEE" stroke-width="3.2" fill="none" stroke-linejoin="miter"/><path d="M216.3 309.8L223.5 318.4L216.3 327.0L209.1 318.4Z" stroke="#4DBEEE" stroke-width="3.2" fill="none" stroke-linejoin="miter"/><path d="M227.6 436.9L234.8 445.5L227.6 454.1L220.4 445.5Z" stroke="#4DBEEE" stroke-width="3.2" fill="none" stroke-linejoin="miter"/><path d="M238.8 378.6L246.0 387.2L238.8 395.8L231.6 387.2Z" stroke="#4DBEEE" stroke-width="3.2" fill="none" stroke-linejoin="miter"/><path d="M250.0 266.6L257.2 275.2L250.0 283.8L242.8 275.2Z" stroke="#4DBEEE" stroke-width="3.2" fill="none" stroke-linejoin="miter"/><path d="M261.3 314.5L268.5 323.1L261.3 331.7L254.1 323.1Z" stroke="#4DBEEE" stroke-width="3.2" fill="none" stroke-linejoin="miter"/><path d="M272.5 428.8L279.7 437.4L272.5 446.0L265.3 437.4Z" stroke="#4DBEEE" stroke-width="3.2" fill="none" stroke-linejoin="miter"/><path d="M283.8 447.4L291.0 456.0L283.8 464.6L276.6 456.0Z" stroke="#4DBEEE" stroke-width="3.2" fill="none" stroke-linejoin="miter"/><path d="M295.0 385.6L302.2 394.2L295.0 402.8L287.8 394.2Z" stroke="#4DBEEE" stroke-width="3.2" fill="none" stroke-linejoin="miter"/><path d="M306.3 411.3L313.5 419.9L306.3 428.5L299.1 419.9Z" stroke="#4DBEEE" stroke-width="3.2" fill="none" stroke-linejoin="miter"/><path d="M317.5 471.9L324.7 480.5L317.5 489.1L310.3 480.5Z" stroke="#4DBEEE" stroke-width="3.2" fill="none" stroke-linejoin="miter"/><path d="M328.8 428.8L336.0 437.4L328.8 446.0L321.6 437.4Z" stroke="#4DBEEE" stroke-width="3.2" fill="none" stroke-linejoin="miter"/><path d="M340.0 295.8L347.2 304.4L340.0 313.0L332.8 304.4Z" stroke="#4DBEEE" stroke-width="3.2" fill="none" stroke-linejoin="miter"/><path d="M351.3 283.0L358.5 291.6L351.3 300.2L344.1 291.6Z" stroke="#4DBEEE" stroke-width="3.2" fill="none" stroke-linejoin="miter"/><path d="M362.5 414.8L369.7 423.4L362.5 432.0L355.3 423.4Z" stroke="#4DBEEE" stroke-width="3.2" fill="none" stroke-linejoin="miter"/><path d="M373.7 323.8L380.9 332.4L373.7 341.0L366.5 332.4Z" stroke="#4DBEEE" stroke-width="3.2" fill="none" stroke-linejoin="miter"/><path d="M385.0 99.9L392.2 108.5L385.0 117.1L377.8 108.5Z" stroke="#4DBEEE" stroke-width="3.2" fill="none" stroke-linejoin="miter"/><path d="M396.2 64.9L403.4 73.5L396.2 82.1L389.0 73.5Z" stroke="#4DBEEE" stroke-width="3.2" fill="none" stroke-linejoin="miter"/><path d="M407.5 290.0L414.7 298.6L407.5 307.2L400.3 298.6Z" stroke="#4DBEEE" stroke-width="3.2" fill="none" stroke-linejoin="miter"/><path d="M418.7 293.5L425.9 302.1L418.7 310.7L411.5 302.1Z" stroke="#4DBEEE" stroke-width="3.2" fill="none" stroke-linejoin="miter"/><path d="M430.0 111.5L437.2 120.1L430.0 128.7L422.8 120.1Z" stroke="#4DBEEE" stroke-width="3.2" fill="none" stroke-linejoin="miter"/><path d="M441.2 77.7L448.4 86.3L441.2 94.9L434.0 86.3Z" stroke="#4DBEEE" stroke-width="3.2" fill="none" stroke-linejoin="miter"/><path d="M452.5 284.1L459.7 292.7L452.5 301.3L445.3 292.7Z" stroke="#4DBEEE" stroke-width="3.2" fill="none" stroke-linejoin="miter"/><path d="M463.7 398.4L470.9 407.0L463.7 415.6L456.5 407.0Z" stroke="#4DBEEE" stroke-width="3.2" fill="none" stroke-linejoin="miter"/><path d="M474.9 309.8L482.1 318.4L474.9 327.0L467.7 318.4Z" stroke="#4DBEEE" stroke-width="3.2" fill="none" stroke-linejoin="miter"/><path d="M486.2 323.8L493.4 332.4L486.2 341.0L479.0 332.4Z" stroke="#4DBEEE" stroke-width="3.2" fill="none" stroke-linejoin="miter"/><path d="M497.4 410.1L504.6 418.7L497.4 427.3L490.2 418.7Z" stroke="#4DBEEE" stroke-width="3.2" fill="none" stroke-linejoin="miter"/><path d="M508.7 398.4L515.9 407.0L508.7 415.6L501.5 407.0Z" stroke="#4DBEEE" stroke-width="3.2" fill="none" stroke-linejoin="miter"/><path d="M519.9 309.8L527.1 318.4L519.9 327.0L512.7 318.4Z" stroke="#4DBEEE" stroke-width="3.2" fill="none" stroke-linejoin="miter"/><path d="M531.2 271.3L538.4 279.9L531.2 288.5L524.0 279.9Z" stroke="#4DBEEE" stroke-width="3.2" fill="none" stroke-linejoin="miter"/><path d="M542.4 358.8L549.6 367.4L542.4 376.0L535.2 367.4Z" stroke="#4DBEEE" stroke-width="3.2" fill="none" stroke-linejoin="miter"/><path d="M553.7 327.3L560.9 335.9L553.7 344.5L546.5 335.9Z" stroke="#4DBEEE" stroke-width="3.2" fill="none" stroke-linejoin="miter"/><path d="M564.9 171.0L572.1 179.6L564.9 188.2L557.7 179.6Z" stroke="#4DBEEE" stroke-width="3.2" fill="none" stroke-linejoin="miter"/><path d="M576.1 171.0L583.3 179.6L576.1 188.2L568.9 179.6Z" stroke="#4DBEEE" stroke-width="3.2" fill="none" stroke-linejoin="miter"/><path d="M587.4 196.7L594.6 205.3L587.4 213.9L580.2 205.3Z" stroke="#4DBEEE" stroke-width="3.2" fill="none" stroke-linejoin="miter"/><path d="M598.6 342.5L605.8 351.1L598.6 359.7L591.4 351.1Z" stroke="#4DBEEE" stroke-width="3.2" fill="none" stroke-linejoin="miter"/><path d="M609.9 171.0L617.1 179.6L609.9 188.2L602.7 179.6Z" stroke="#4DBEEE" stroke-width="3.2" fill="none" stroke-linejoin="miter"/><path d="M621.1 194.3L628.3 202.9L621.1 211.5L613.9 202.9Z" stroke="#4DBEEE" stroke-width="3.2" fill="none" stroke-linejoin="miter"/><path d="M632.4 249.2L639.6 257.8L632.4 266.4L625.2 257.8Z" stroke="#4DBEEE" stroke-width="3.2" fill="none" stroke-linejoin="miter"/><path d="M643.6 410.1L650.8 418.7L643.6 427.3L636.4 418.7Z" stroke="#4DBEEE" stroke-width="3.2" fill="none" stroke-linejoin="miter"/><path d="M654.9 339.0L662.1 347.6L654.9 356.2L647.7 347.6Z" stroke="#4DBEEE" stroke-width="3.2" fill="none" stroke-linejoin="miter"/><path d="M666.1 326.1L673.3 334.7L666.1 343.3L658.9 334.7Z" stroke="#4DBEEE" stroke-width="3.2" fill="none" stroke-linejoin="miter"/><path d="M677.4 398.4L684.6 407.0L677.4 415.6L670.2 407.0Z" stroke="#4DBEEE" stroke-width="3.2" fill="none" stroke-linejoin="miter"/><path d="M688.6 450.9L695.8 459.5L688.6 468.1L681.4 459.5Z" stroke="#4DBEEE" stroke-width="3.2" fill="none" stroke-linejoin="miter"/><path d="M699.8 419.4L707.0 428.0L699.8 436.6L692.6 428.0Z" stroke="#4DBEEE" stroke-width="3.2" fill="none" stroke-linejoin="miter"/><path d="M711.1 393.8L718.3 402.4L711.1 411.0L703.9 402.4Z" stroke="#4DBEEE" stroke-width="3.2" fill="none" stroke-linejoin="miter"/><path d="M722.3 422.9L729.5 431.5L722.3 440.1L715.1 431.5Z" stroke="#4DBEEE" stroke-width="3.2" fill="none" stroke-linejoin="miter"/><path d="M733.6 419.4L740.8 428.0L733.6 436.6L726.4 428.0Z" stroke="#4DBEEE" stroke-width="3.2" fill="none" stroke-linejoin="miter"/><path d="M744.8 362.3L752.0 370.9L744.8 379.5L737.6 370.9Z" stroke="#4DBEEE" stroke-width="3.2" fill="none" stroke-linejoin="miter"/><path d="M756.1 300.5L763.3 309.1L756.1 317.7L748.9 309.1Z" stroke="#4DBEEE" stroke-width="3.2" fill="none" stroke-linejoin="miter"/><path d="M767.3 360.0L774.5 368.6L767.3 377.2L760.1 368.6Z" stroke="#4DBEEE" stroke-width="3.2" fill="none" stroke-linejoin="miter"/><path d="M778.6 428.8L785.8 437.4L778.6 446.0L771.4 437.4Z" stroke="#4DBEEE" stroke-width="3.2" fill="none" stroke-linejoin="miter"/><path d="M789.8 360.0L797.0 368.6L789.8 377.2L782.6 368.6Z" stroke="#4DBEEE" stroke-width="3.2" fill="none" stroke-linejoin="miter"/><path d="M801.0 322.6L808.2 331.2L801.0 339.8L793.8 331.2Z" stroke="#4DBEEE" stroke-width="3.2" fill="none" stroke-linejoin="miter"/><path d="M812.3 392.6L819.5 401.2L812.3 409.8L805.1 401.2Z" stroke="#4DBEEE" stroke-width="3.2" fill="none" stroke-linejoin="miter"/><path d="M823.5 459.1L830.7 467.7L823.5 476.3L816.3 467.7Z" stroke="#4DBEEE" stroke-width="3.2" fill="none" stroke-linejoin="miter"/><path d="M834.8 414.8L842.0 423.4L834.8 432.0L827.6 423.4Z" stroke="#4DBEEE" stroke-width="3.2" fill="none" stroke-linejoin="miter"/><path d="M846.0 415.9L853.2 424.5L846.0 433.1L838.8 424.5Z" stroke="#4DBEEE" stroke-width="3.2" fill="none" stroke-linejoin="miter"/><path d="M857.3 459.1L864.5 467.7L857.3 476.3L850.1 467.7Z" stroke="#4DBEEE" stroke-width="3.2" fill="none" stroke-linejoin="miter"/>
</g>
<text transform="translate(138.2,569.8) scale(1.1,1)" font-size="34.0" text-anchor="middle" fill="#262626">0</text>
<text transform="translate(250.6,569.8) scale(1.1,1)" font-size="34.0" text-anchor="middle" fill="#262626">10</text>
<text transform="translate(363.1,569.8) scale(1.1,1)" font-size="34.0" text-anchor="middle" fill="#262626">20</text>
<text transform="translate(475.5,569.8) scale(1.1,1)" font-size="34.0" text-anchor="middle" fill="#262626">30</text>
<text transform="translate(588.0,569.8) scale(1.1,1)" font-size="34.0" text-anchor="middle" fill="#262626">40</text>
<text transform="translate(700.4,569.8) scale(1.1,1)" font-size="34.0" text-anchor="middle" fill="#262626">50</text>
<text transform="translate(812.9,569.8) scale(1.1,1)" font-size="34.0" text-anchor="middle" fill="#262626">60</text>
<text transform="translate(925.3,569.8) scale(1.1,1)" font-size="34.0" text-anchor="middle" fill="#262626">70</text>
<text transform="translate(126.5,541.4) scale(1.1,1)" font-size="34.0" text-anchor="end" fill="#262626">0</text>
<text transform="translate(126.5,483.1) scale(1.1,1)" font-size="34.0" text-anchor="end" fill="#262626">0.005</text>
<text transform="translate(126.5,424.8) scale(1.1,1)" font-size="34.0" text-anchor="end" fill="#262626">0.01</text>
<text transform="translate(126.5,366.5) scale(1.1,1)" font-size="34.0" text-anchor="end" fill="#262626">0.015</text>
<text transform="translate(126.5,308.1) scale(1.1,1)" font-size="34.0" text-anchor="end" fill="#262626">0.02</text>
<text transform="translate(126.5,249.8) scale(1.1,1)" font-size="34.0" text-anchor="end" fill="#262626">0.025</text>
<text transform="translate(126.5,191.5) scale(1.1,1)" font-size="34.0" text-anchor="end" fill="#262626">0.03</text>
<text transform="translate(126.5,133.2) scale(1.1,1)" font-size="34.0" text-anchor="end" fill="#262626">0.035</text>
<text transform="translate(126.5,74.9) scale(1.1,1)" font-size="34.0" text-anchor="end" fill="#262626">0.04</text>
<text transform="translate(532.5,605.5) scale(1.166,1)" font-size="31.5" text-anchor="middle" fill="#262626">Rules in BRB model</text>
<text transform="translate(28.1,266.1) rotate(-90) scale(1,1.166)" font-size="31.5" text-anchor="middle" fill="#262626">Activation rate</text>
<rect x="437.5" y="20.5" width="467.5" height="225.5" fill="#fff" stroke="#262626" stroke-width="3.3"/>
<path d="M444.9 41.2H518.1" stroke="#0072BD" stroke-width="3.3" fill="none"/>
<ellipse cx="481.4" cy="41.2" rx="7.5" ry="6.1" fill="none" stroke="#0072BD" stroke-width="3.2"/>
<text transform="translate(524.2,53.2) scale(1.162,1)" font-size="31.5" text-anchor="start" fill="#000">activation rates of sub.1</text>
<path d="M444.9 78.0H518.1" stroke="#D95319" stroke-width="3.3" fill="none"/>
<path d="M474.4 78.0H488.4M481.4 71.7V84.3M476.4 73.5L486.4 82.5M476.4 82.5L486.4 73.5" stroke="#D95319" stroke-width="3.2" fill="none"/>
<text transform="translate(524.2,90.0) scale(1.162,1)" font-size="31.5" text-anchor="start" fill="#000">activation rates of sub.2</text>
<path d="M444.9 114.8H518.1" stroke="#EDB120" stroke-width="3.3" fill="none"/>
<path d="M476.2 110.4L486.6 119.2M476.2 119.2L486.6 110.4" stroke="#EDB120" stroke-width="3.4" fill="none"/>
<text transform="translate(524.2,126.8) scale(1.162,1)" font-size="31.5" text-anchor="start" fill="#000">activation rates of sub.3</text>
<path d="M444.9 151.6H518.1" stroke="#7E2F8E" stroke-width="3.3" fill="none" stroke-dasharray="13.9,3.4,7.5,2.9,14.4,0.8,9.1,3.2,7.6,3.0,7.3,100"/>

<text transform="translate(524.2,163.6) scale(1.162,1)" font-size="31.5" text-anchor="start" fill="#000">activation rates of sub.4</text>
<path d="M444.9 188.4H518.1" stroke="#77AC30" stroke-width="3.3" fill="none"/>
<rect x="476.0" y="183.9" width="10.8" height="9.0" fill="none" stroke="#77AC30" stroke-width="2.8"/>
<text transform="translate(524.2,200.4) scale(1.162,1)" font-size="31.5" text-anchor="start" fill="#000">activation rates of sub.5</text>
<path d="M444.9 225.2H518.1" stroke="#4DBEEE" stroke-width="3.3" fill="none"/>
<path d="M481.4 216.6L488.6 225.2L481.4 233.8L474.2 225.2Z" stroke="#4DBEEE" stroke-width="3.2" fill="none" stroke-linejoin="miter"/>
<text transform="translate(524.2,237.2) scale(1.162,1)" font-size="31.5" text-anchor="start" fill="#000">activation rates of sub.6</text>
</svg></body></html>
